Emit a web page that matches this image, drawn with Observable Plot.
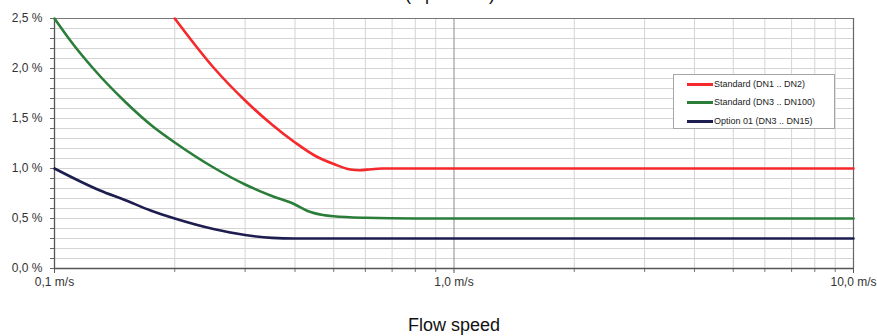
<!DOCTYPE html>
<html><head><meta charset="utf-8">
<script src="https://cdn.jsdelivr.net/npm/d3@7"></script>
<script src="https://cdn.jsdelivr.net/npm/@observablehq/plot@0.6"></script>
<style>
body{margin:0;background:#fff;font-family:"Liberation Sans",Arial,sans-serif;}
#wrap{position:relative;width:877px;height:336px;overflow:hidden}
#legend{position:absolute;left:673px;top:74px;width:160px;height:53px;border:1px solid #a6a6a6;background:#fff;font-size:9px;color:#222}
.row{position:absolute;left:13px;height:12px;display:flex;align-items:center;white-space:nowrap}
.sw{width:26px;height:3px;margin-right:1px}
</style></head><body><div id="wrap"></div>
<script>
const seriesNames = ["Standard (DN1 .. DN2)", "Standard (DN3 .. DN100)", "Option 01 (DN3 .. DN15)"];
const seriesColors = ["#f5282b", "#2b7d3a", "#1e1d4f"];

const redSpeed = [0.2, 0.25, 0.3, 0.35, 0.4, 0.45, 0.5, 0.55, 0.58, 0.62, 0.66, 1, 10];
const redAcc   = [2.5, 2.01, 1.68, 1.44, 1.26, 1.125, 1.045, 0.99, 0.983, 0.993, 1.0, 1.0, 1.0];

const greenSpeed = [0.1, 0.11, 0.125, 0.15, 0.175, 0.2, 0.25, 0.3, 0.35, 0.4, 0.43, 0.47, 0.5, 0.6, 0.8, 1, 10];
const greenAcc   = [2.5, 2.27, 2.0, 1.67, 1.43, 1.26, 1.01, 0.84, 0.725, 0.64, 0.575, 0.535, 0.522, 0.507, 0.5, 0.5, 0.5];

const navySpeed = [0.1, 0.13, 0.15, 0.174, 0.2, 0.25, 0.3, 0.35, 0.4, 1, 10];
const navyAcc   = [1.0, 0.78, 0.685, 0.58, 0.5, 0.395, 0.335, 0.306, 0.3, 0.3, 0.3];

const xLabelTicks = [0.1, 1, 10];
const xMinorTicks = [0.2,0.3,0.4,0.5,0.6,0.7,0.8,0.9,2,3,4,5,6,7,8,9];
const yTicks = [0,0.1,0.2,0.3,0.4,0.5,0.6,0.7,0.8,0.9,1.0,1.1,1.2,1.3,1.4,1.5,1.6,1.7,1.8,1.9,2.0,2.1,2.2,2.3,2.4,2.5];
const yLabelTicks = [0, 0.5, 1.0, 1.5, 2.0, 2.5];
const titleText = "(Option 01)";
const xTitle = "Flow speed";

const rows = [];
[[redSpeed, redAcc], [greenSpeed, greenAcc], [navySpeed, navyAcc]].forEach(([s, a], i) => {
  s.forEach((v, j) => rows.push({series: seriesNames[i], speed: v, acc: a[j]}));
});

const comma = (v, d) => v.toFixed(d).replace(".", ",");

const chart = Plot.plot({
  width: 877, height: 336,
  marginTop: 18, marginLeft: 54, marginRight: 24, marginBottom: 68,
  style: {fontFamily: "Liberation Sans, Arial, sans-serif", fontSize: "12px", color: "#333", background: "#fff"},
  x: {type: "log", domain: [0.1, 10]},
  y: {domain: [0, 2.5]},
  color: {domain: seriesNames, range: seriesColors},
  marks: [
    Plot.gridX(xMinorTicks, {stroke: "#d4d4d4", strokeOpacity: 1}),
    Plot.gridY(yTicks, {stroke: "#d4d4d4", strokeOpacity: 1}),
    Plot.ruleX([1], {stroke: "#8a8a8a"}),
    Plot.ruleY([2.5], {stroke: "#777"}),
    Plot.ruleX([10], {stroke: "#666", strokeWidth: 1.2}),
    Plot.axisX(xMinorTicks, {tickSize: 4, tickFormat: () => "", label: null, stroke: "#777"}),
    Plot.axisX(xLabelTicks, {tickSize: 5, tickPadding: 4, tickFormat: d => comma(d, 1) + " m/s", label: null, fontSize: 12, fill: "#333", stroke: "#555"}),
    Plot.axisY(yTicks, {tickSize: 4, tickPadding: 8, tickFormat: d => yLabelTicks.some(t => Math.abs(t - d) < 1e-9) ? comma(d, 1) + " %" : "", label: null, fontSize: 12, fill: "#333", stroke: "#666"}),
    Plot.ruleY([0], {stroke: "#555", strokeWidth: 1.3}),
    Plot.ruleX([0.1], {stroke: "#555", strokeWidth: 1.3}),
    Plot.line(rows, {x: "speed", y: "acc", z: "series", stroke: "series", strokeWidth: 2.6, curve: "monotone-x"}),
    Plot.text([titleText], {frameAnchor: "top", dy: -24, dx: -4, lineAnchor: "middle", fontSize: 18, fill: "#111"}),
    Plot.text([xTitle], {frameAnchor: "bottom", dy: 57, dx: 0, lineAnchor: "middle", fontSize: 18, fill: "#111"})
  ]
});
const wrap = document.getElementById("wrap");
wrap.appendChild(chart);

const lg = document.createElement("div");
lg.id = "legend";
const tops = [3, 21, 40];
seriesNames.forEach((n, i) => {
  const r = document.createElement("div");
  r.className = "row";
  r.style.top = tops[i] + "px";
  const sw = document.createElement("div");
  sw.className = "sw";
  sw.style.background = seriesColors[i];
  const t = document.createElement("span");
  t.textContent = n;
  r.appendChild(sw); r.appendChild(t);
  lg.appendChild(r);
});
wrap.appendChild(lg);
</script></body></html>
